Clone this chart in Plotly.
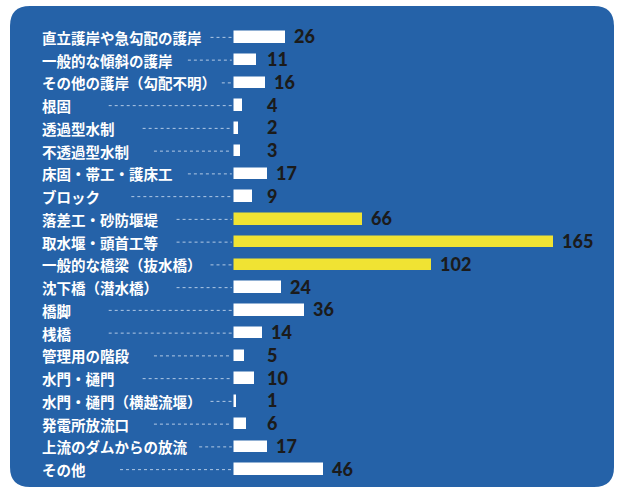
import plotly.graph_objects as go

categories = [
    "直立護岸や急勾配の護岸", "一般的な傾斜の護岸", "その他の護岸（勾配不明）", "根固",
    "透過型水制", "不透過型水制", "床固・帯工・護床工", "ブロック",
    "落差工・砂防堰堤", "取水堰・頭首工等", "一般的な橋梁（抜水橋）", "沈下橋（潜水橋）",
    "橋脚", "桟橋", "管理用の階段", "水門・樋門", "水門・樋門（横越流堰）",
    "発電所放流口", "上流のダムからの放流", "その他",
]
values = [26, 11, 16, 4, 2, 3, 17, 9, 66, 165, 102, 24, 36, 14, 5, 10, 1, 6, 17, 46]
highlighted = ["落差工・砂防堰堤", "取水堰・頭首工等", "一般的な橋梁（抜水橋）"]

BLUE = "#2562A8"
YELLOW = "#F0E333"
WHITE = "#FFFFFF"

W, H = 619, 488
ML, MR, MT, MB = 40, 19, 26, 7
XMIN, XMAX = -100.8, 189.4
plot_w = W - ML - MR
plot_h = H - MT - MB
ppu = plot_w / (XMAX - XMIN)
n = len(categories)
LABEL_FS = 14.5

colors = [YELLOW if c in highlighted else WHITE for c in categories]
ys = list(range(n))

fig = go.Figure()

# leader lines
lx, ly = [], []
zero_px = ML + (0 - XMIN) * ppu
for i, c in enumerate(categories):
    end_px = ML + len(c) * LABEL_FS * 1.0
    start_px = end_px + 0.22 * (zero_px + 15 - end_px)
    x0 = (start_px - ML) / ppu + XMIN
    x1 = -1.4
    lx += [x0, x1, None]
    ly += [i, i, None]
fig.add_trace(go.Scatter(x=lx, y=ly, mode="lines",
                         line=dict(color="rgba(225,235,250,0.75)", width=1, dash="dot"),
                         hoverinfo="skip", showlegend=False))

fig.add_trace(go.Bar(
    x=values, y=ys, orientation="h",
    marker=dict(color=colors, line=dict(color=colors, width=1.5)),
    width=0.46, showlegend=False, hoverinfo="skip",
))

annotations = []
for i, (c, v) in enumerate(zip(categories, values)):
    annotations.append(dict(
        x=0, xref="paper", y=i, yref="y", text=c, showarrow=False,
        xanchor="left", yanchor="middle",
        font=dict(family="Noto Sans CJK JP", size=LABEL_FS, color=WHITE, weight=700),
    ))
    annotations.append(dict(
        x=max(v, 12), xref="x", y=i, yref="y", text=str(v), showarrow=False,
        xanchor="left", yanchor="middle", xshift=7, yshift=1,
        font=dict(family="Lato", size=18, color="#1b1b1b", weight=900),
    ))

# rounded blue panel
def px2x(px):
    return (px - ML) / plot_w

def py2y(py):
    return (H - MB - py) / plot_h

L, R, T, B, r = 10, 614, 6, 487, 20
path = (
    f"M {px2x(L + r)},{py2y(T)} L {px2x(R - r)},{py2y(T)} "
    f"Q {px2x(R)},{py2y(T)} {px2x(R)},{py2y(T + r)} "
    f"L {px2x(R)},{py2y(B - r)} Q {px2x(R)},{py2y(B)} {px2x(R - r)},{py2y(B)} "
    f"L {px2x(L + r)},{py2y(B)} Q {px2x(L)},{py2y(B)} {px2x(L)},{py2y(B - r)} "
    f"L {px2x(L)},{py2y(T + r)} Q {px2x(L)},{py2y(T)} {px2x(L + r)},{py2y(T)} Z"
)

fig.update_layout(
    width=W, height=H,
    margin=dict(l=ML, r=MR, t=MT, b=MB),
    paper_bgcolor="white", plot_bgcolor="rgba(0,0,0,0)",
    xaxis=dict(range=[XMIN, XMAX], visible=False, fixedrange=True),
    yaxis=dict(range=[n - 0.5, -0.5], visible=False, fixedrange=True),
    shapes=[dict(type="path", path=path, xref="paper", yref="paper",
                 fillcolor=BLUE, line=dict(width=0), layer="below")],
    annotations=annotations,
    bargap=0,
)

fig.write_html(
    "out.html",
    config={"displayModeBar": False},
    post_script="document.body.style.margin='0';document.body.style.overflow='hidden';",
)
